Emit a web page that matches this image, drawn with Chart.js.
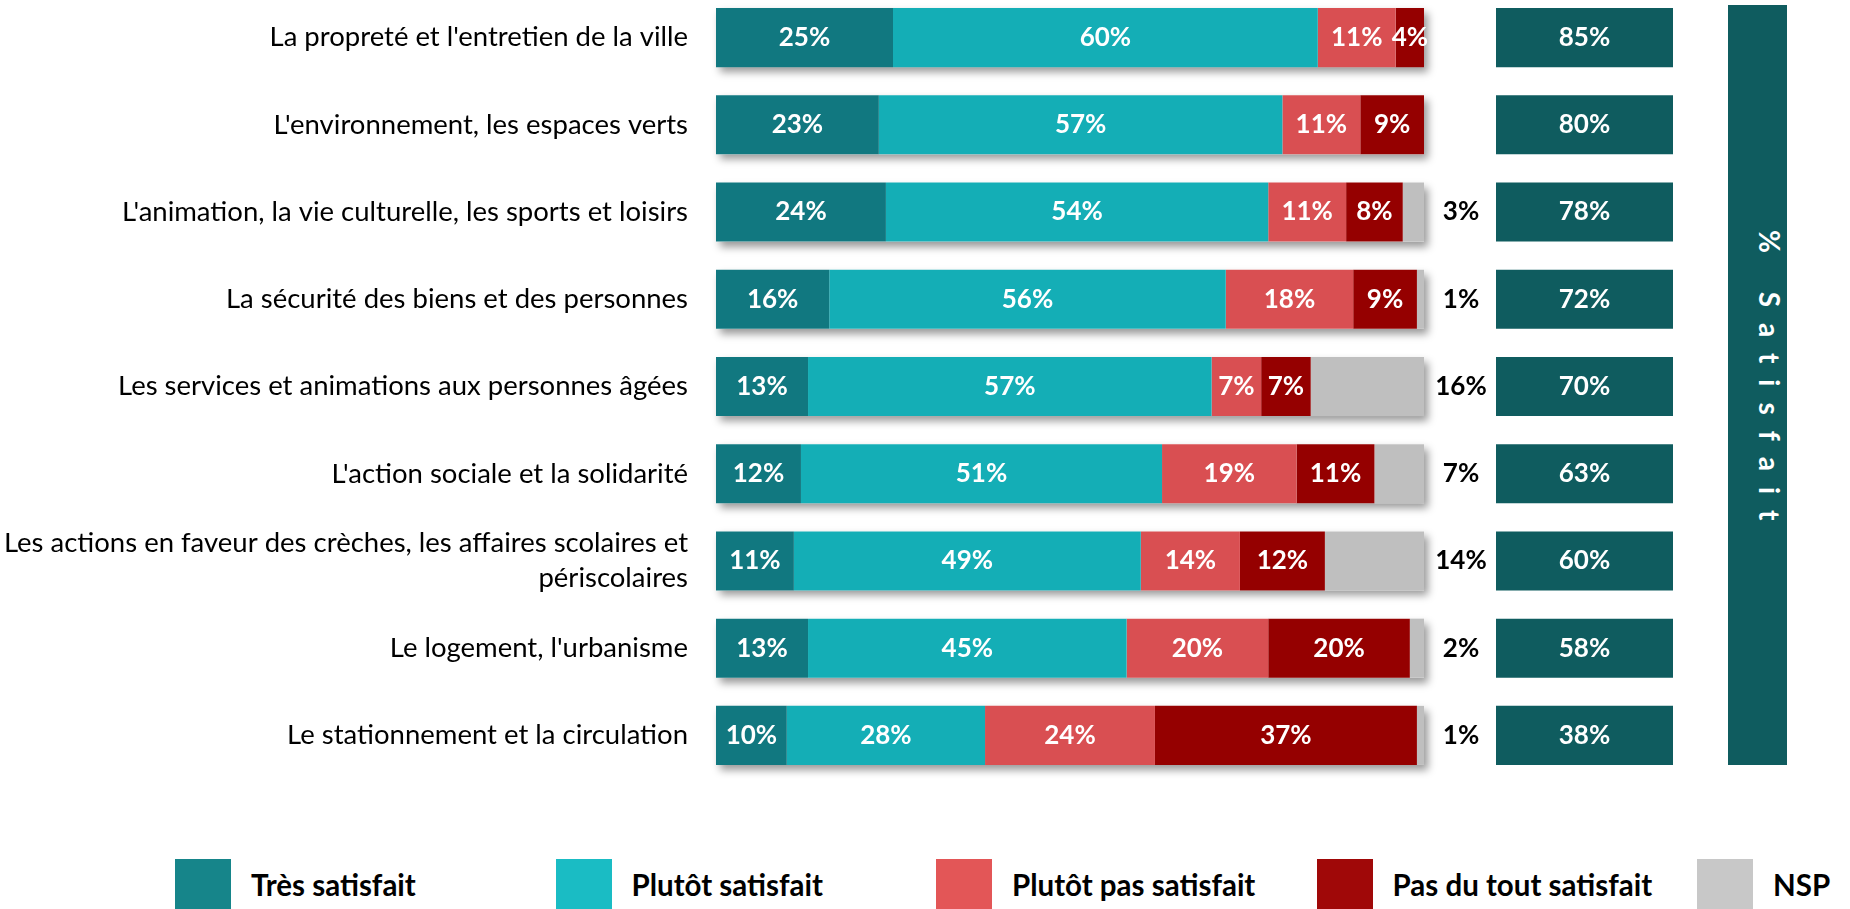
<!DOCTYPE html>
<html>
<head>
<meta charset="utf-8">
<script src="https://cdn.jsdelivr.net/npm/chart.js@4.4.1/dist/chart.umd.min.js"></script>
<style>
  html, body { margin: 0; padding: 0; background: #fff; }
  body { width: 1850px; height: 909px; position: relative; overflow: hidden; font-family: Lato, sans-serif; }
  #main { position: absolute; left: 0; top: -6px; }
  #sat { position: absolute; left: 1496px; top: -6px; }
  #banner {
    position: absolute; left: 1728px; top: 5px; width: 59px; height: 760px;
    background: #0F5C5F;
  }
  #banner span {
    position: absolute; left: 0; width: 59px; top: 225px;
    display: flex; justify-content: center;
    color: #fff; font-weight: bold; font-size: 28px; white-space: pre;
    writing-mode: vertical-rl; letter-spacing: 16px;
  }
  .legend { position: absolute; top: 859px; height: 50px; display: flex; align-items: center; }
  .legend i { display: block; width: 56px; height: 50px; margin-right: 20px; }
  .legend b { font-size: 29.5px; color: #000; }
</style>
</head>
<body>
<canvas id="main" width="1500" height="785"></canvas>
<canvas id="sat" width="177" height="785"></canvas>
<div id="banner"><span>% Satisfait</span></div>
<div id="legend"></div>
<script>
const categories = [
  "La propreté et l'entretien de la ville",
  "L'environnement, les espaces verts",
  "L'animation, la vie culturelle, les sports et loisirs",
  "La sécurité des biens et des personnes",
  "Les services et animations aux personnes âgées",
  "L'action sociale et la solidarité",
  ["Les actions en faveur des crèches, les affaires scolaires et", "périscolaires"],
  "Le logement, l'urbanisme",
  "Le stationnement et la circulation"
];
const seriesNames = ["Très satisfait", "Plutôt satisfait", "Plutôt pas satisfait", "Pas du tout satisfait", "NSP"];
const tresSatisfait = [25, 23, 24, 16, 13, 12, 11, 13, 10];
const plutotSatisfait = [60, 57, 54, 56, 57, 51, 49, 45, 28];
const plutotPas = [11, 11, 11, 18, 7, 19, 14, 20, 24];
const pasDuTout = [4, 9, 8, 9, 7, 11, 12, 20, 37];
const nsp = [0, 0, 3, 1, 16, 7, 14, 2, 1];
const satisfait = [85, 80, 78, 72, 70, 63, 60, 58, 38];

const colors = ["#117880", "#14AEB6", "#D94F52", "#950000", "#BFBFBF"];
const legendColors = ["#16858A", "#1ABCC4", "#E35657", "#A00808", "#C8C8C8"];
const allSeries = [tresSatisfait, plutotSatisfait, plutotPas, pasDuTout, nsp];

const FONT = "Lato, sans-serif";

// one soft drop shadow behind each whole stacked row
const shadowPlugin = {
  id: "shadow",
  beforeDatasetsDraw(chart) {
    const ctx = chart.ctx;
    const metas = chart.data.datasets.map((d, i) => chart.getDatasetMeta(i));
    ctx.save();
    ctx.shadowColor = "rgba(0,0,0,0.4)";
    ctx.shadowBlur = 8;
    ctx.shadowOffsetX = 4;
    ctx.shadowOffsetY = 5;
    ctx.fillStyle = "#fff";
    categories.forEach((c, i) => {
      let x0 = Infinity, x1 = -Infinity, y = 0, h = 0;
      metas.forEach(m => {
        const el = m.data[i];
        x0 = Math.min(x0, el.base, el.x);
        x1 = Math.max(x1, el.base, el.x);
        y = el.y; h = el.height;
      });
      ctx.fillRect(x0, y - h / 2, x1 - x0, h);
    });
    ctx.restore();
  }
};

// value labels inside the segments, NSP outside
const labelPlugin = {
  id: "labels",
  afterDatasetsDraw(chart) {
    const ctx = chart.ctx;
    ctx.save();
    ctx.font = "bold 26px " + FONT;
    ctx.textBaseline = "middle";
    ctx.textAlign = "center";
    const outX = chart.scales.x.getPixelForValue(100) + 37;
    chart.data.datasets.forEach((ds, di) => {
      chart.getDatasetMeta(di).data.forEach((el, i) => {
        const v = ds.data[i];
        if (!v) return;
        if (di === 4) {
          ctx.fillStyle = "#000";
          ctx.fillText(v + "%", outX, el.y);
        } else {
          ctx.fillStyle = "#fff";
          ctx.fillText(v + "%", (el.x + el.base) / 2, el.y);
        }
      });
    });
    ctx.restore();
  }
};

new Chart(document.getElementById("main"), {
  type: "bar",
  data: {
    labels: categories,
    datasets: allSeries.map((d, i) => ({
      label: seriesNames[i],
      data: d,
      backgroundColor: colors[i],
      borderWidth: 0,
      barPercentage: 0.677,
      categoryPercentage: 1
    }))
  },
  options: {
    indexAxis: "y",
    responsive: false,
    animation: false,
    layout: { padding: { left: 0, right: 76, top: 0, bottom: 0 } },
    plugins: { legend: { display: false }, tooltip: { enabled: false } },
    scales: {
      x: { stacked: true, min: 0, max: 100, display: false },
      y: {
        stacked: true,
        grid: { display: false, drawTicks: false },
        border: { display: false },
        ticks: { color: "#000", padding: 28, font: { family: FONT, size: 27.5, lineHeight: 1.28 } },
        afterFit(scale) {
          scale.width = 716;
          scale.paddingTop = 0;
          scale.paddingBottom = 0;
        }
      }
    }
  },
  plugins: [shadowPlugin, labelPlugin]
});

// "% Satisfait" boxes
new Chart(document.getElementById("sat"), {
  type: "bar",
  data: {
    labels: categories,
    datasets: [{
      label: "% Satisfait",
      data: satisfait.map(() => 1),
      backgroundColor: "#0F5C5F",
      borderWidth: 0,
      barPercentage: 0.677,
      categoryPercentage: 1
    }]
  },
  options: {
    indexAxis: "y",
    responsive: false,
    animation: false,
    plugins: { legend: { display: false }, tooltip: { enabled: false } },
    scales: {
      x: { min: 0, max: 1, display: false },
      y: { display: false }
    }
  },
  plugins: [{
    id: "satLabels",
    afterDatasetsDraw(chart) {
      const ctx = chart.ctx;
      ctx.save();
      ctx.font = "bold 26px " + FONT;
      ctx.fillStyle = "#fff";
      ctx.textAlign = "center";
      ctx.textBaseline = "middle";
      chart.getDatasetMeta(0).data.forEach((el, i) => {
        ctx.fillText(satisfait[i] + "%", (el.x + el.base) / 2, el.y);
      });
      ctx.restore();
    }
  }]
});

// legend
const legendEl = document.getElementById("legend");
seriesNames.forEach((name, i) => {
  const item = document.createElement("div");
  item.className = "legend";
  item.style.left = (175 + i * 380.5) + "px";
  item.innerHTML = '<i style="background:' + legendColors[i] + '"></i><b>' + name + '</b>';
  legendEl.appendChild(item);
});
</script>
</body>
</html>
